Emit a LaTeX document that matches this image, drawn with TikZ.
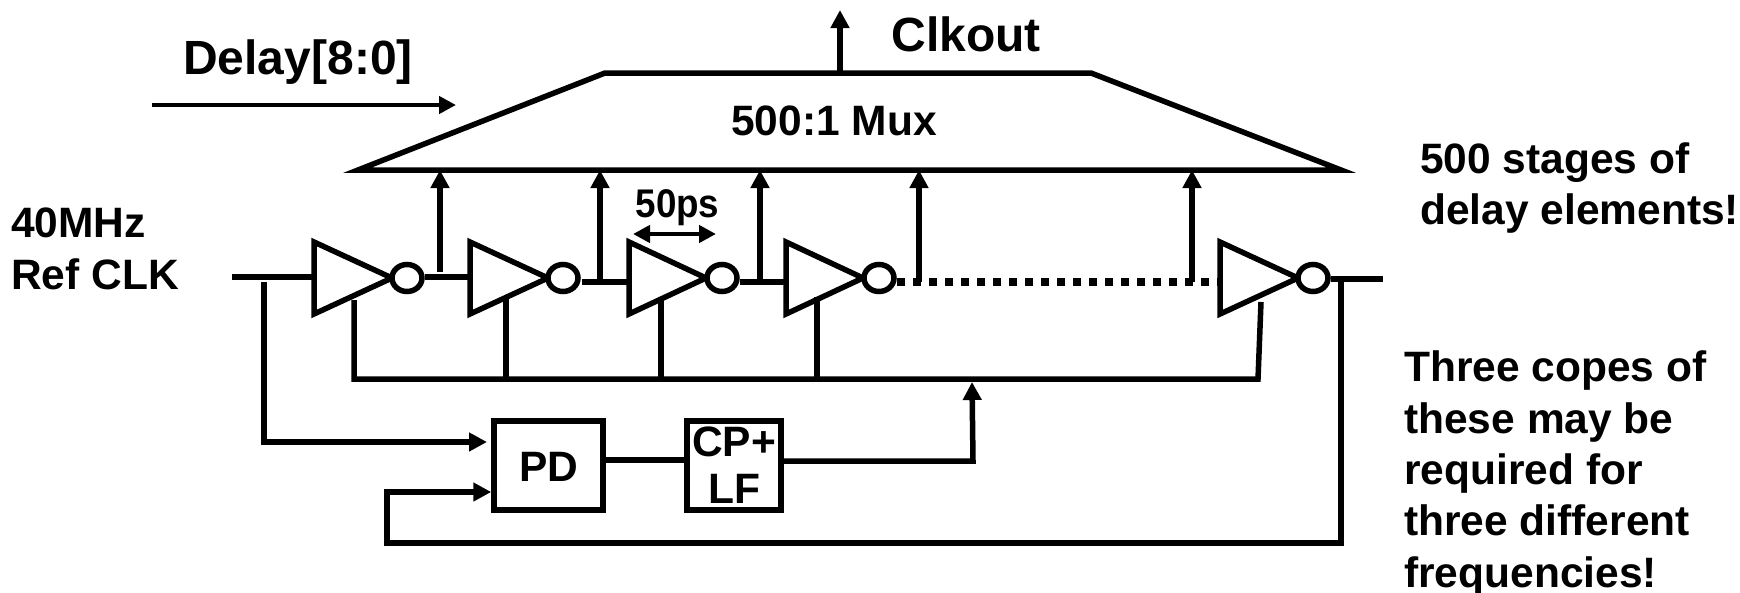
\documentclass[tikz,border=0pt]{standalone}
\usepackage{fontspec}
\setmainfont{Liberation Sans}
\usetikzlibrary{arrows.meta,shapes.geometric,calc}
\tikzset{
  wire/.style={line width=5.5pt,line cap=butt,line join=miter},
  sig/.style={wire,-{Triangle[length=18pt,width=18pt]}},
  thinsig/.style={line width=4.5pt,-{Triangle[length=17pt,width=17pt]}},
  bubble/.style={ellipse,draw,line width=5.5pt,minimum width=30pt,minimum height=27pt,inner sep=0pt,fill=white},
  block/.style={draw,line width=5.5pt,minimum width=109pt,minimum height=89pt,inner sep=0pt},
  lab/.style={font=\fontsize{42.5}{51.4}\selectfont\bfseries,inner sep=0pt,align=left},
  biglab/.style={font=\fontsize{48}{56}\selectfont\bfseries,inner sep=0pt},
}
\newcommand{\invstage}[5]{% name, left x, tip x, bubble x, control x
  \coordinate (#1L) at (#2,278);
  \coordinate (#1T) at (#2,242);
  \coordinate (#1B) at (#2,314);
  \coordinate (#1P) at (#3,278);
  \draw[wire,line join=miter,miter limit=6] (#1T) -- (#1P) -- (#1B) -- cycle;
  \node[bubble] (#1o) at (#4,278) {};
  \coordinate (#1c) at (#5,297);
}
\begin{document}
\begin{tikzpicture}[x=1pt,y=-1pt]
\useasboundingbox (0,0) rectangle (1740,592);
% mux
\coordinate (m1) at (358,170);
\coordinate (m2) at (605,73);
\coordinate (m3) at (1091,73);
\coordinate (m4) at (1341,170);
\draw[wire,miter limit=12] (m1) -- (m2) -- (m3) -- (m4) -- cycle;
\node[lab] (muxt) at (834,121) {500:1 Mux};
\coordinate (mo) at (840,73);
\coordinate (clk) at (840,10);
\draw[sig] (mo) -- (clk);
\node[biglab] (clkt) at (966,34) {Clkout};
\node[biglab] (dly) at (298,62) {Delay[8:0]};
\coordinate (d1) at (152,105);
\coordinate (d2) at (456,105);
\draw[thinsig] (d1) -- (d2);
% inverters
\invstage{a}{314}{392}{407}{354}
\invstage{b}{470}{548}{563}{506}
\invstage{c}{629}{706}{722}{661}
\invstage{d}{786}{863}{879}{817}
\invstage{e}{1220}{1298}{1313}{1261}
% chain
\coordinate (in) at (232,277);
\coordinate (o1) at (440,277);
\draw[wire] (in) -- (aL |- in);
\draw[wire] (ao.east |- o1) -- (bL |- o1);
\coordinate (o2) at (600,282);
\coordinate (o2s) at (582,282);
\draw[wire] (o2s) -- (cL |- o2);
\coordinate (o3) at (760,282);
\draw[wire] (co.east |- o3) -- (dL |- o3);
\coordinate (o4) at (919,282);
\coordinate (o5) at (1192,282);
\draw[line width=8pt,dash pattern=on 8pt off 8pt] (do.east |- o4) -- (eL |- o5);
\coordinate (out) at (1383,279);
\draw[wire] (eo.east |- out) -- (out);
% taps
\draw[sig] (o1 |- 0,272) -- (o1 |- m1);
\draw[sig] (o2) -- (o2 |- m1);
\draw[sig] (o3) -- (o3 |- m1);
\draw[sig] (o4) -- (o4 |- m1);
\draw[sig] (o5) -- (o5 |- m1);
% labels
\node[font=\fontsize{40}{48}\selectfont\bfseries,inner sep=0pt,xscale=.92] (t50) at (677.5,208) {50ps};
\coordinate (w1) at (633,234);
\coordinate (w2) at (716,234);
\draw[line width=4.5pt,{Triangle[length=17pt,width=17pt]}-{Triangle[length=17pt,width=17pt]}] (w1) -- (w2);
\node[lab,anchor=west] (ref) at (11,249) {40MHz\\Ref CLK};
\node[lab,anchor=west] (st) at (1420,188) {500 stages of\\delay elements!};
\node[lab,anchor=west] (cp) at (1404,473.5) {Three copes of\\these may be\\required for\\three different\\frequencies!};
% control bus
\coordinate (busL) at (354,379);
\coordinate (busR) at (1258,379);
\draw[wire] (ac |- 0,300) -- (busL) -- (busR) -- (ec |- 0,302);
\draw[wire] (bc) -- (bc |- busL);
\draw[wire] (cc) -- (cc |- busL);
\draw[wire] (dc) -- (dc |- busL);
% PD and CP
\node[block] (pd) at (548.5,465.5) {};
\node[lab] (pdt) at (549,467) {PD};
\node[block,minimum width=94pt] (cpb) at (734,465.5) {};
\node[lab,font=\fontsize{42.5}{47}\selectfont\bfseries,align=center] (cpt) at (734,465) {CP+\\LF};
\draw[wire] (pd.east |- 0,460) -- (cpb.west |- 0,460);
\coordinate (lf) at (973,461);
\coordinate (busin) at (972,382);
\draw[sig] (cpb.east |- lf) -- (lf) -- (busin);
\coordinate (c1) at (264,282);
\coordinate (c2) at (264,442);
\draw[sig] (c1) -- (c2) -- (487,442);
\coordinate (f1) at (1341,278);
\coordinate (f2) at (1341,543);
\coordinate (f3) at (387,543);
\coordinate (f4) at (387,492);
\draw[sig] (f1) -- (f2) -- (f3) -- (f4) -- (pd.west |- f4);
\end{tikzpicture}
\end{document}
